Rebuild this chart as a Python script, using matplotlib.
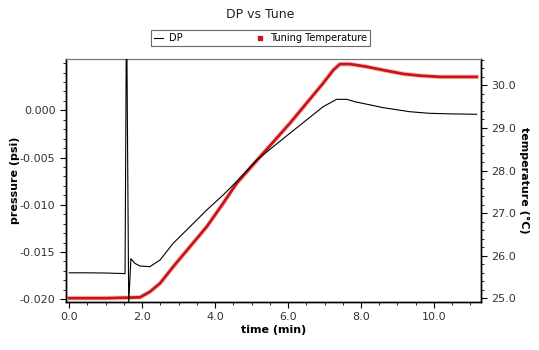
import matplotlib
matplotlib.use("Agg")
import matplotlib.pyplot as plt
from matplotlib.lines import Line2D
from matplotlib.ticker import MultipleLocator, FormatStrFormatter

# DP trace (time in min, pressure in psi)
dp_time = [0.0, 0.5, 1.0, 1.50, 1.53, 1.57, 1.63, 1.69, 1.80, 1.94, 2.21, 2.49,
           2.85, 3.31, 3.77, 4.22, 4.63, 5.14, 6.05, 6.96, 7.33, 7.61, 7.83,
           8.61, 9.34, 9.89, 10.5, 11.17]
dp_psi = [-0.0172, -0.0172, -0.01722, -0.01728, -0.01728, 0.012, -0.0205, -0.0157,
          -0.0162, -0.01648, -0.01655, -0.01584, -0.01407, -0.01232, -0.01055,
          -0.00896, -0.00738, -0.00526, -0.00243, 0.00038, 0.00116, 0.00116,
          0.00091, 0.00028, -0.00015, -0.00032, -0.00038, -0.00042]

# tuning temperature (time in min, degC)
temp_time = [0.0, 1.0, 1.94, 2.21, 2.49, 2.85, 3.31, 3.77, 4.22, 4.59, 5.23,
             6.05, 6.96, 7.24, 7.42, 7.70, 8.15, 8.61, 9.16, 9.60, 10.16, 11.17]
temp_c = [25.0, 25.0, 25.02, 25.15, 25.35, 25.74, 26.21, 26.68, 27.23, 27.70,
          28.32, 29.11, 30.05, 30.36, 30.50, 30.50, 30.44, 30.36, 30.27, 30.23,
          30.20, 30.20]

x_ticks = [0, 2, 4, 6, 8, 10]
left_ticks = [0.000, -0.005, -0.010, -0.015, -0.020]
right_ticks = [25, 26, 27, 28, 29, 30]

plt.rcParams['font.family'] = ['DejaVu Sans']

fig = plt.figure(figsize=(5.39, 3.5), dpi=100)
ax1 = fig.add_axes([0.1224, 0.1371, 0.77, 0.6943])
ax2 = ax1.twinx()

ax1.plot(dp_time, dp_psi, color='black', linewidth=0.8, zorder=3)
# soft halo under the temperature trace, then the trace itself
ax2.plot(temp_time, temp_c, color='#e06060', linewidth=3.4, alpha=0.35)
ax2.plot(temp_time, temp_c, color='#cc1414', linewidth=2.0)
ax1.set_zorder(ax2.get_zorder() + 1)
ax1.patch.set_visible(False)

ax1.set_xlim(-0.09, 11.29)
ax1.set_ylim(-0.02029, 0.00543)
ax2.set_ylim(24.91, 30.62)

ax1.set_xticks(x_ticks)
ax1.xaxis.set_major_formatter(FormatStrFormatter('%.1f'))
ax1.xaxis.set_minor_locator(MultipleLocator(0.5))
ax1.set_yticks(left_ticks)
ax1.yaxis.set_major_formatter(FormatStrFormatter('%.3f'))
ax1.yaxis.set_minor_locator(MultipleLocator(0.001))
ax2.set_yticks(right_ticks)
ax2.yaxis.set_major_formatter(FormatStrFormatter('%.1f'))
ax2.yaxis.set_minor_locator(MultipleLocator(0.2))

for ax in (ax1, ax2):
    ax.tick_params(which='major', length=4, width=0.8, labelsize=8,
                   labelcolor='#333333', direction='out')
    ax.tick_params(which='minor', length=2.5, width=0.6, direction='out')
    for side in ('left', 'right', 'bottom'):
        ax.spines[side].set_linewidth(1.0)
    ax.spines['top'].set_color('#777777')
    ax.spines['top'].set_linewidth(0.8)

ax1.set_xlabel('time (min)', fontsize=8, fontweight='bold', labelpad=2)
ax1.set_ylabel('pressure (psi)', fontsize=8, fontweight='bold', labelpad=0)
ax2.set_ylabel('temperature (°C)', fontsize=8, fontweight='bold',
               rotation=270, labelpad=9)

fig.text(0.483, 1 - 14 / 350, 'DP vs Tune', ha='center', va='center',
         fontsize=9, color='#222222')

handles = [Line2D([], [], color='black', linewidth=0.8),
           Line2D([], [], color='#cc1414', linestyle='none', marker='s',
                  markersize=2.5)]
leg = fig.legend(handles, ['DP', 'Tuning Temperature'], ncol=2,
                 loc='center', bbox_to_anchor=(0.4833, 1 - 38.3 / 350),
                 fontsize=7, frameon=True, fancybox=False, handlelength=0.9,
                 handletextpad=0.6, columnspacing=7.5, borderpad=0.3,
                 borderaxespad=0)
leg.get_frame().set_edgecolor('#444444')
leg.get_frame().set_linewidth(0.8)

fig.savefig('out.png', dpi=100)
